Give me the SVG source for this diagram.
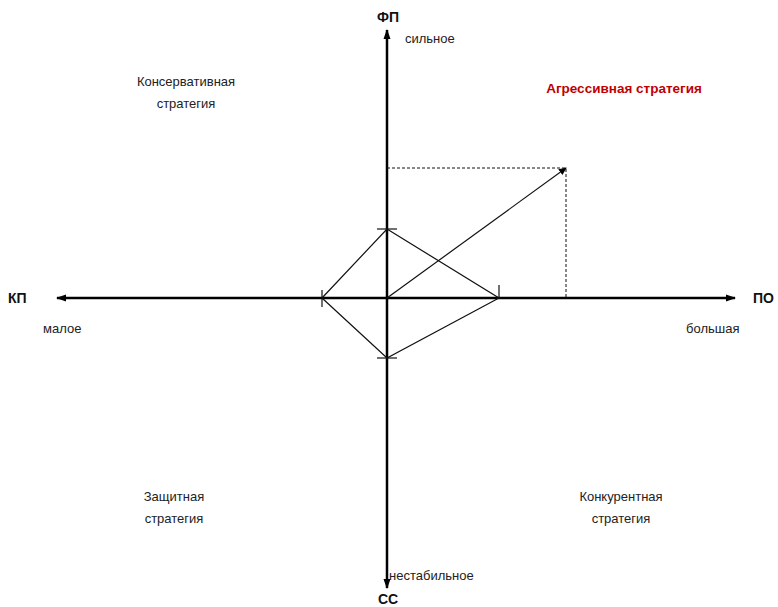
<svg xmlns="http://www.w3.org/2000/svg" width="778" height="607" viewBox="0 0 778 607">
<style>
.t{font-family:"Liberation Sans","DejaVu Sans",sans-serif;font-size:13px;fill:#222}
.b{font-family:"Liberation Sans","DejaVu Sans",sans-serif;font-size:14px;font-weight:bold;fill:#111}
.r{font-family:"Liberation Sans","DejaVu Sans",sans-serif;font-size:13.5px;font-weight:bold;fill:#c00000}
.axis{stroke:#000;stroke-width:2.5;fill:none}
.thin{stroke:#111;stroke-width:1.2;fill:none}
.dash{stroke:#111;stroke-width:1;stroke-dasharray:3,2;fill:none}
</style>
<defs>
<marker id="ah" markerWidth="8" markerHeight="8" refX="7" refY="4" orient="auto" markerUnits="userSpaceOnUse">
<path d="M0,0.5 L8,4 L0,7.5 Z" fill="#000"/>
</marker>
<marker id="ah2" markerWidth="10" markerHeight="10" refX="9" refY="5" orient="auto" markerUnits="userSpaceOnUse">
<path d="M0,1.5 L10,5 L0,8.5 Z" fill="#000"/>
</marker>
</defs>
<rect width="778" height="607" fill="#fff"/>
<g id="connectors">
<line class="axis" x1="387" y1="298" x2="387" y2="30" marker-end="url(#ah2)"/>
<line class="axis" x1="387" y1="298" x2="387" y2="588" marker-end="url(#ah2)"/>
<line class="axis" x1="387" y1="298" x2="57" y2="298" marker-end="url(#ah2)"/>
<line class="axis" x1="387" y1="298" x2="735" y2="298" marker-end="url(#ah2)"/>
<line class="thin" x1="377" y1="229" x2="397" y2="229"/>
<line class="thin" x1="377" y1="358" x2="397" y2="358"/>
<line class="thin" x1="322" y1="290" x2="322" y2="307"/>
<line class="thin" x1="499" y1="285" x2="499" y2="299"/>
<polyline class="thin" points="322,298 387,229 499,298 387,358 322,298"/>
<line class="thin" x1="387" y1="298" x2="566" y2="168" marker-end="url(#ah)"/>
<polyline class="dash" points="387,168 566,168 566,298"/>
</g>
<g id="axis-labels">
<text class="b" x="388" y="22" text-anchor="middle">ФП</text>
<text class="b" x="388" y="604" text-anchor="middle">СС</text>
<text class="b" x="8" y="303">КП</text>
<text class="b" x="753" y="303">ПО</text>
<text class="t" x="405" y="43">сильное</text>
<text class="t" x="389" y="580">нестабильное</text>
<text class="t" x="43" y="333">малое</text>
<text class="t" x="686" y="333">большая</text>
</g>
<g id="q-aggressive"><text class="r" x="624" y="93" text-anchor="middle">Агрессивная стратегия</text></g>
<g id="q-conservative"><text class="t" text-anchor="middle"><tspan x="186" y="86">Консервативная</tspan><tspan x="186" y="108">стратегия</tspan></text></g>
<g id="q-defensive"><text class="t" text-anchor="middle"><tspan x="174" y="501">Защитная</tspan><tspan x="174" y="523">стратегия</tspan></text></g>
<g id="q-competitive"><text class="t" text-anchor="middle"><tspan x="621" y="501">Конкурентная</tspan><tspan x="621" y="523">стратегия</tspan></text></g>
</svg>
